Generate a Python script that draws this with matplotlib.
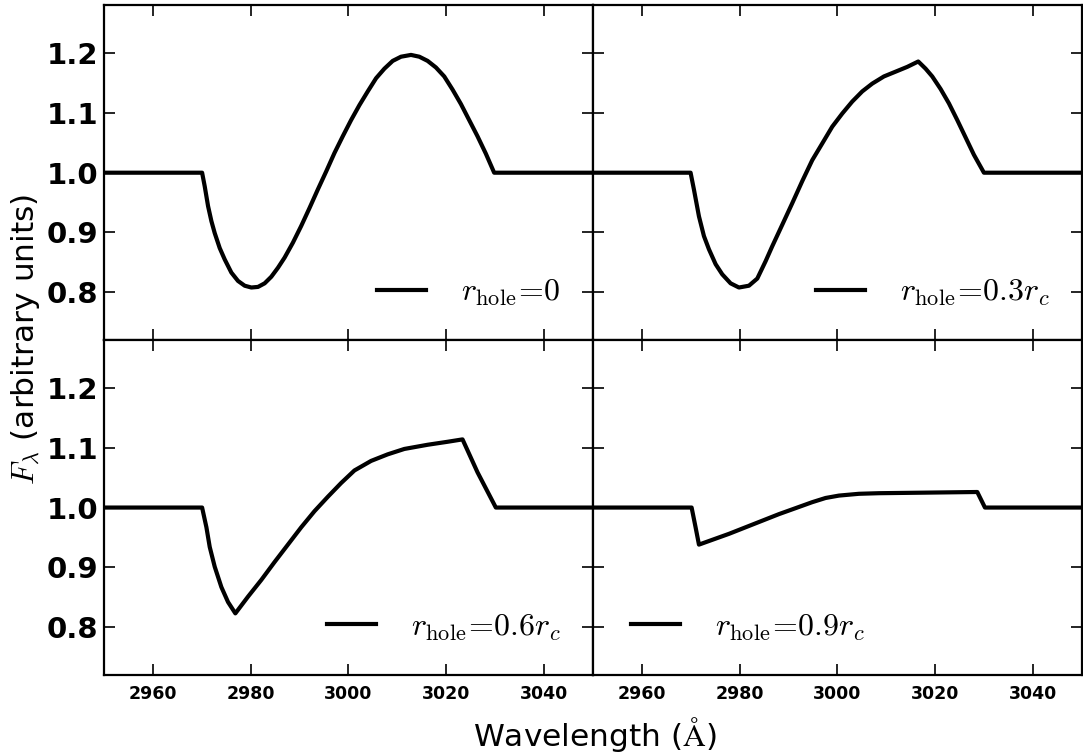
import numpy as np
import matplotlib
matplotlib.use("Agg")
import matplotlib.pyplot as plt

plt.rcParams['mathtext.fontset'] = 'cm'
plt.rcParams['font.family'] = ['DejaVu Sans']

# wavelength (A) and flux
wave_1 = [2950, 2970.07, 2970.61, 2971.29, 2971.97, 2972.65, 2973.67, 2974.69, 2976.05,
          2977.41, 2978.78, 2980.14, 2981.50, 2982.86, 2984.22, 2985.58, 2986.94,
          2988.64, 2990.34, 2992.04, 2993.74, 2995.44, 2997.14, 2998.84, 3000.54,
          3002.24, 3003.95, 3005.65, 3007.35, 3009.05, 3010.75, 3012.79, 3014.49,
          3016.19, 3017.89, 3019.59, 3021.29, 3022.99, 3024.69, 3026.39, 3028.09,
          3029.80, 3050]
flux_1 = [1.0, 1.0, 0.977, 0.944, 0.919, 0.899, 0.874, 0.855, 0.833,
          0.819, 0.811, 0.808, 0.809, 0.815, 0.826, 0.841, 0.858,
          0.883, 0.911, 0.941, 0.972, 1.002, 1.033, 1.061, 1.088,
          1.113, 1.136, 1.158, 1.174, 1.187, 1.194, 1.197, 1.194,
          1.187, 1.176, 1.161, 1.139, 1.115, 1.088, 1.061, 1.032,
          1.0, 1.0]

wave_2 = [2950, 2969.97, 2970.65, 2971.68, 2972.70, 2973.72, 2975.09, 2976.45, 2978.15,
          2979.86, 2981.90, 2983.61, 2985.31, 2986.67, 2988.72, 2990.76, 2992.81,
          2994.85, 2996.90, 2998.94, 3000.99, 3003.03, 3005.08, 3007.12, 3009.51,
          3011.90, 3014.28, 3016.53, 3018.03, 3019.39, 3021.10, 3022.80, 3024.51,
          3026.21, 3027.91, 3029.96, 3050]
flux_2 = [1.0, 1.0, 0.972, 0.927, 0.894, 0.872, 0.847, 0.830, 0.815,
          0.808, 0.811, 0.823, 0.852, 0.877, 0.913, 0.949, 0.986,
          1.021, 1.049, 1.077, 1.099, 1.119, 1.136, 1.149, 1.161,
          1.169, 1.177, 1.186, 1.174, 1.161, 1.140, 1.116, 1.088,
          1.059, 1.030, 1.0, 1.0]

wave_3 = [2950, 2970.07, 2970.95, 2971.63, 2972.65, 2974.01, 2975.37, 2976.87, 2979.46,
          2982.18, 2984.90, 2987.62, 2990.34, 2993.06, 2995.78, 2998.50, 3001.22,
          3004.63, 3008.03, 3011.43, 3016.19, 3020.27, 3023.33, 3026.39, 3030.14, 3050]
flux_3 = [1.0, 1.0, 0.967, 0.934, 0.901, 0.867, 0.842, 0.823, 0.851,
          0.879, 0.909, 0.938, 0.967, 0.994, 1.018, 1.041, 1.062,
          1.078, 1.089, 1.098, 1.105, 1.110, 1.114, 1.059, 1.0, 1.0]

wave_4 = [2950, 2970.18, 2970.99, 2971.68, 2974.40, 2977.81, 2981.22, 2984.63, 2988.04,
          2991.45, 2994.85, 2997.58, 3000.31, 3004.40, 3008.49, 3018.71, 3028.60,
          3030.17, 3050]
flux_4 = [1.0, 1.0, 0.967, 0.938, 0.946, 0.956, 0.967, 0.978, 0.989,
          0.999, 1.009, 1.016, 1.020, 1.023, 1.024, 1.025, 1.026,
          1.0, 1.0]

labels = [r'$r_{\rm hole}\!=\!0$', r'$r_{\rm hole}\!=\!0.3r_c$',
          r'$r_{\rm hole}\!=\!0.6r_c$', r'$r_{\rm hole}\!=\!0.9r_c$']
legend_loc = ['lower right', 'lower right', 'lower right', 'lower left']
legend_anchor = [(1, 0), (1, 0), (1, 0), (0.012, 0)]
xticks = [2960, 2980, 3000, 3020, 3040]
yticks = [0.8, 0.9, 1.0, 1.1, 1.2]

waves = [wave_1, wave_2, wave_3, wave_4]
fluxes = [flux_1, flux_2, flux_3, flux_4]

fig, axes = plt.subplots(2, 2, figsize=(10.83, 7.55), dpi=100, sharex=True, sharey=True)
fig.subplots_adjust(left=0.096, right=0.999, bottom=0.106, top=0.993, hspace=0, wspace=0)

for i, ax in enumerate(axes.flat):
    ax.plot(waves[i], fluxes[i], color='k', lw=3, label=labels[i])
    ax.set_xlim(2950, 3050)
    ax.set_ylim(0.72, 1.28)
    ax.set_xticks(xticks)
    ax.set_yticks(yticks)
    ax.tick_params(direction='in', top=True, right=True, length=8, width=1.2)
    ax.tick_params(axis='y', labelsize=21, pad=4)
    ax.tick_params(axis='x', labelsize=12.5, pad=7)
    for s in ax.spines.values():
        s.set_linewidth(1.6)
    for t in ax.get_xticklabels() + ax.get_yticklabels():
        t.set_fontweight('bold')
    ax.legend(loc=legend_loc[i], bbox_to_anchor=legend_anchor[i], frameon=False,
              fontsize=23, handlelength=1.55, handletextpad=1.1, borderaxespad=0.6)
    if i < 2:
        ax.tick_params(labelbottom=False)
    if i % 2 == 1:
        ax.tick_params(labelleft=False)

fig.text(0.549, 0.027, r'Wavelength ($\mathrm{\AA}$)', ha='center', va='center', fontsize=22.5)
fig.text(0.024, 0.55, r'$F_\lambda$ (arbitrary units)', ha='center', va='center',
         rotation=90, fontsize=22.5)

fig.savefig('out.png', dpi=100)
